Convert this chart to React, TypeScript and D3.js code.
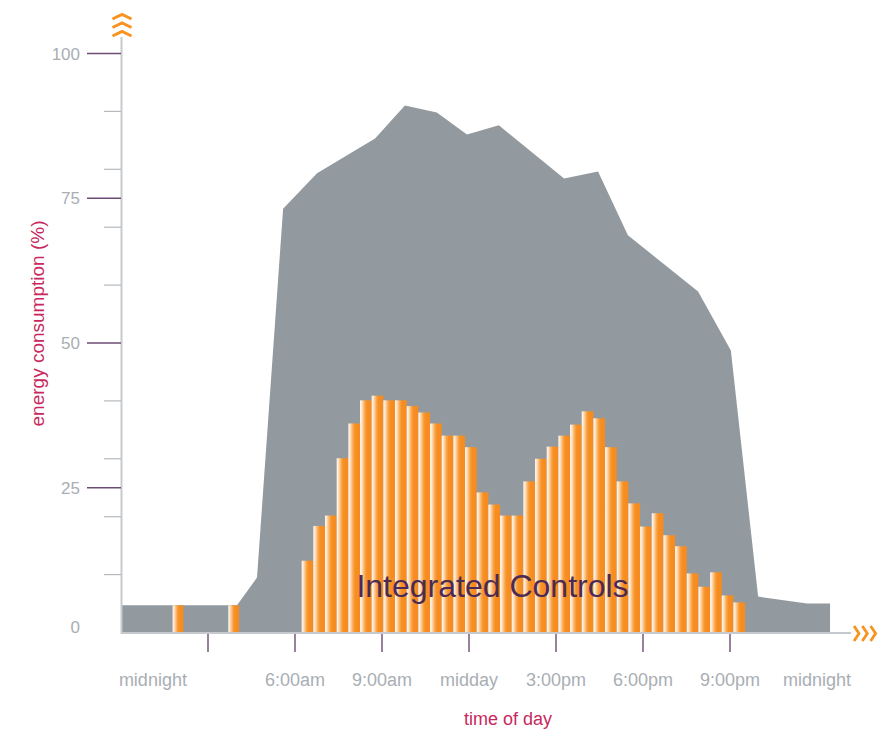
import React from "react";
import * as d3 from "d3";

// ---- data ----
const yMajorTicks = [25, 50, 75, 100];
const yMajorLabels = [0, 25, 50, 75, 100];
const yMinorTicks = [10, 20, 30, 40, 60, 70, 80, 90];
const xTickHours = [3, 6, 9, 12, 15, 18, 21];
const xLabelText = ["midnight", "6:00am", "9:00am", "midday", "3:00pm", "6:00pm", "9:00pm", "midnight"];
const xLabelHours = [1.1, 6, 9, 12, 15, 18, 21, 24];

// baseline (conventional) consumption profile
const baseHours = [0, 4.0, 4.69, 5.59, 6.76, 8.76, 9.79, 10.89, 11.93, 13.03, 15.28, 16.45, 17.48, 19.9, 21.03, 21.97, 23.66, 24.45];
const baseValues = [4.7, 4.7, 9.5, 73.2, 79.3, 85.3, 91.0, 89.8, 86.0, 87.6, 78.4, 79.6, 68.6, 58.9, 48.7, 6.2, 5.0, 5.0];

// integrated controls bars
const dayBarStartHour = 6.23;
const dayBarEndHour = 21.52;
const dayBarValues = [12.4, 18.4, 20.2, 30.1, 36.1, 40.1, 40.9, 40.1, 40.1, 39.1, 38.0, 36.1, 34.0, 34.0, 32.0, 24.2, 22.1, 20.2, 20.2, 26.1, 30.0, 32.1, 34.0, 35.9, 38.2, 37.0, 32.0, 26.1, 22.3, 18.3, 20.6, 16.8, 14.9, 10.2, 7.9, 10.4, 6.4, 5.2];
const nightBarHours = [1.78, 3.7];
const nightBarValues = [4.7, 4.7];
const nightBarDuration = 0.37;

export default function App() {
  const W = 881, H = 731;
  const x = d3.scaleLinear().domain([0, 24]).range([121, 817]);
  const y = d3.scaleLinear().domain([0, 100]).range([632.5, 53.5]);
  const band = d3
    .scaleBand<number>()
    .domain(d3.range(dayBarValues.length))
    .range([x(dayBarStartHour), x(dayBarEndHour)])
    .padding(0);

  const area = d3
    .area<number>()
    .x((_, i) => x(baseHours[i]))
    .y0(y(0))
    .y1((d) => y(d))
    .curve(d3.curveLinear);

  const axisCol = "#c6c9cd";
  const labelCol = "#a9aeb4";
  const purple = "#6e4b74";
  const titleCol = "#c8285c";
  const orange = "#f7931e";
  const font = "'Liberation Sans', Arial, Helvetica, sans-serif";

  const upChevrons = [14.5, 23, 31.5];
  const rightChevrons = [854, 862.3, 870.6];

  return (
    <svg
      width={W}
      height={H}
      style={{ position: "absolute", left: 0, top: 0, background: "#fff" }}
      fontFamily={font}
    >
      <defs>
        <linearGradient id="barGrad" x1="0" y1="0" x2="1" y2="0">
          <stop offset="0" stopColor="#fffaf4" />
          <stop offset="0.15" stopColor="#fde3c6" />
          <stop offset="0.42" stopColor="#f9a549" />
          <stop offset="0.58" stopColor="#f78f22" />
          <stop offset="1" stopColor="#f68a1e" />
        </linearGradient>
      </defs>

      {/* baseline area */}
      <path d={area(baseValues) || ""} fill="#939a9f" />

      {/* night bars */}
      {nightBarValues.map((v, i) => (
        <rect
          key={"n" + i}
          x={x(nightBarHours[i])}
          y={y(v)}
          width={x(nightBarHours[i] + nightBarDuration) - x(nightBarHours[i])}
          height={y(0) - y(v)}
          fill="url(#barGrad)"
        />
      ))}

      {/* day bars */}
      {dayBarValues.map((v, i) => (
        <rect
          key={"d" + i}
          x={band(i)}
          y={y(v)}
          width={band.bandwidth()}
          height={y(0) - y(v)}
          fill="url(#barGrad)"
        />
      ))}

      {/* axes */}
      <line x1={121.5} x2={121.5} y1={37} y2={633.5} stroke={axisCol} strokeWidth={2} />
      <line x1={121} x2={851} y1={633} y2={633} stroke={axisCol} strokeWidth={2} />

      {yMinorTicks.map((t) => (
        <line key={"mi" + t} x1={104} x2={121} y1={y(t)} y2={y(t)} stroke="#b5b9be" strokeWidth={1.2} />
      ))}
      {yMajorTicks.map((t) => (
        <line key={"ma" + t} x1={87} x2={121} y1={y(t)} y2={y(t)} stroke={purple} strokeWidth={1.3} />
      ))}
      {yMajorLabels.map((t) => (
        <text key={"yl" + t} x={80} y={y(t) + (t === 0 ? 0.5 : 6)} textAnchor="end" fontSize={17} fill={labelCol}>
          {t}
        </text>
      ))}

      {xTickHours.map((h) => (
        <line key={"xt" + h} x1={x(h)} x2={x(h)} y1={634} y2={652} stroke={purple} strokeWidth={1.4} />
      ))}
      {xLabelText.map((s, i) => (
        <text key={"xl" + i} x={x(xLabelHours[i])} y={686} textAnchor="middle" fontSize={18} fill={labelCol}>
          {s}
        </text>
      ))}

      {/* axis titles */}
      <text x={508} y={725} textAnchor="middle" fontSize={18} fill={titleCol}>
        time of day
      </text>
      <text
        transform={`translate(44, 323.5) rotate(-90)`}
        textAnchor="middle"
        fontSize={19}
        fill={titleCol}
      >
        energy consumption (%)
      </text>

      {/* series label */}
      <text x={492.5} y={597} textAnchor="middle" fontSize={32} fill="#4b2a55">
        Integrated Controls
      </text>

      {/* break chevrons */}
      {upChevrons.map((cy, i) => (
        <path
          key={"uc" + i}
          d={`M112.5,${cy + 4.5} L122,${cy} L131.5,${cy + 4.5}`}
          fill="none"
          stroke={orange}
          strokeWidth={3}
        />
      ))}
      {rightChevrons.map((cx, i) => (
        <path
          key={"rc" + i}
          d={`M${cx},626 L${cx + 5},633.5 L${cx},641`}
          fill="none"
          stroke={orange}
          strokeWidth={2.8}
        />
      ))}
    </svg>
  );
}
